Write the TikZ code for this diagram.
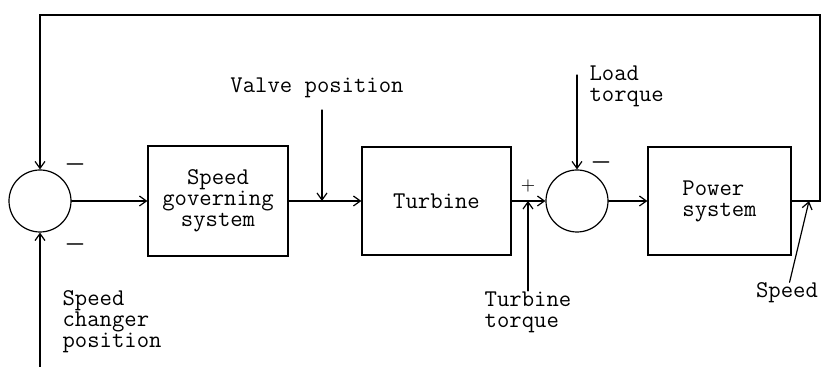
\documentclass[tikz,border=0pt]{standalone}
\usetikzlibrary{arrows.meta}
\tikzset{
  blk/.style={draw, minimum height=54pt, inner sep=2pt, align=center},
  sumj/.style={draw, circle, minimum size=31pt, inner sep=0pt},
  lbl/.style={inner sep=0pt, align=left},
  sgn/.style={inner sep=0pt, font=\large\boldmath},
}
\begin{document}
\begin{tikzpicture}[x=0.5pt, y=-0.5pt, semithick, line cap=round,
    >={Straight Barb[length=3.5pt,width=5pt]},
    font=\ttfamily\fontsize{12}{10.5}\selectfont]
  \useasboundingbox (0,0) rectangle (821,367);

  \node[sumj] (s1) at (40,201) {};
  \node[blk, minimum width=70pt, minimum height=55pt] (gov) at (218,201) {Speed\\governing\\system};
  \node[blk, minimum width=74.5pt] (tur) at (436.5,201) {Turbine};
  \node[sumj] (s2) at (577,201) {};
  \node[blk, minimum width=71.5pt, align=left] (pow) at (719.5,201) {Power\\system};

  \draw[->] (s1) -- (gov);
  \draw[->] (gov) -- (tur);
  \draw[->] (tur) -- (s2);
  \draw[->] (s2) -- (pow);

  \coordinate (out) at (820,201);
  \coordinate (topr) at (820,15);
  \coordinate (topl) at (40,15);
  \draw[->] (pow.east) -- (out) -- (topr) -- (topl) -- (s1);

  \coordinate (spin) at (40,367);
  \draw[->] (spin) -- (s1);
  \node[lbl, anchor=west] (spch) at (62,322) {Speed\\changer\\position};

  \node[lbl] (valve) at (317,88) {Valve position};
  \coordinate (vtop) at (322,110);
  \coordinate (vpt) at (322,201);
  \draw[->] (vtop) -- (vpt);

  \node[lbl, anchor=west] (load) at (589,86) {Load\\torque};
  \coordinate (ltop) at (577,75);
  \draw[->] (ltop) -- (s2);

  \node[lbl] (ttorq) at (528,312) {Turbine\\torque};
  \draw[->] (ttorq) -- (ttorq |- tur.east);

  \node[lbl] (spd) at (787,293) {Speed};
  \coordinate (spdpt) at (809,201);
  \draw[->] (spd) -- (spdpt);

  \node[sgn] (m1) at (75,165) {$-$};
  \node[sgn] (m2) at (75,245) {$-$};
  \node[sgn] (m3) at (601,163) {$-$};
  \node[sgn, font=\small] (p1) at (528,186) {$+$};
\end{tikzpicture}
\end{document}
